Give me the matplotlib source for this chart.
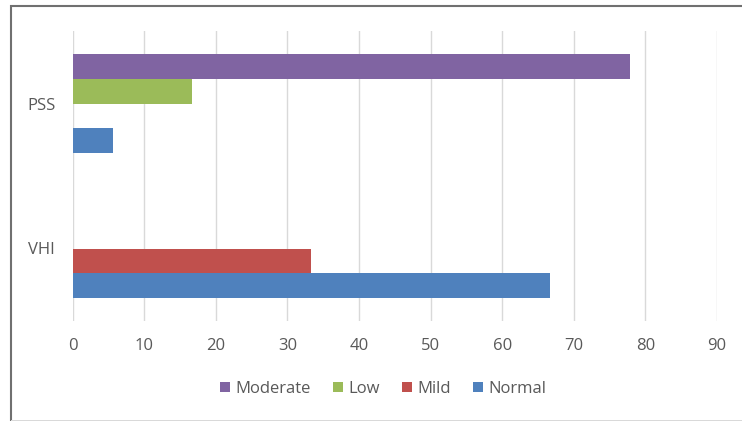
import matplotlib
matplotlib.use("Agg")
import matplotlib.pyplot as plt
import numpy as np
from matplotlib.patches import Rectangle

plt.rcParams['font.family'] = ['Open Sans', 'DejaVu Sans']

categories = ["VHI", "PSS"]
series = ["Normal", "Mild", "Low", "Moderate"]
normal = [66.7, 5.6]
mild = [33.3, 0]
low = [0, 16.7]
moderate = [0, 77.8]
colors = ["#4F81BD", "#C0504D", "#9BBB59", "#8064A2"]
xticks = list(range(0, 100, 10))

fig = plt.figure(figsize=(7.42, 4.21), dpi=100)
ax = fig.add_axes([72.5/742, 1-321/421, (717-72.5)/742, (321-31)/421])

h = 0.171
y = np.arange(len(categories))
vals = [normal, mild, low, moderate]
for i, (name, v, c) in enumerate(zip(series, vals, colors)):
    ax.barh(y + (i - 1.5) * h, v, height=h, color=c, label=name, zorder=3,
            linewidth=0)

ax.set_xlim(0, 90)
ax.set_ylim(-0.5, 1.5)
ax.set_xticks(xticks)
ax.set_yticks(y)
ax.set_yticklabels(categories)
ax.grid(axis='x', color='#D9D9D9', linewidth=1, zorder=0)
ax.grid(axis='y', visible=False)
for s in ax.spines.values():
    s.set_visible(False)
ax.tick_params(axis='both', length=0, colors='#595959', labelsize=12)
ax.tick_params(axis='x', pad=12.5)
ax.tick_params(axis='y', pad=12.5)

handles, labels = ax.get_legend_handles_labels()
order = [3, 2, 1, 0]
leg = fig.legend([handles[i] for i in order], [labels[i] for i in order],
                 loc='center', bbox_to_anchor=(383/742, 1-389/421), ncol=4,
                 frameon=False, fontsize=12, handlelength=0.6, handleheight=0.6,
                 handletextpad=0.3, columnspacing=1.35, labelcolor='#595959')

# outer frame
fig.patches.append(Rectangle((10.5/742, -0.01), 1.0, 1 - 6/421 + 0.01,
                             transform=fig.transFigure, fill=False,
                             edgecolor='#707070', linewidth=1.5))
fig.patches.append(Rectangle((10.5/742, 0), 1.0, 1/421, transform=fig.transFigure,
                             color='#D9D9D9', linewidth=0))

fig.savefig("out.png", dpi=100)
